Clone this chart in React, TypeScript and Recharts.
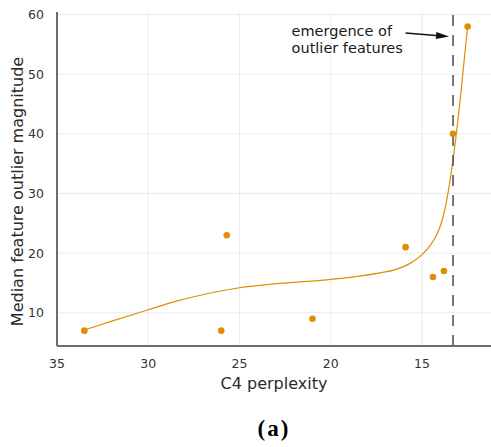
import { ComposedChart, Line, Scatter, XAxis, YAxis, CartesianGrid, ReferenceLine, Label } from "recharts";

// measured models: C4 perplexity vs. median outlier magnitude
const PERPLEXITY = [33.5, 26.0, 25.7, 21.0, 15.9, 14.4, 13.8, 13.3, 12.5];
const MAGNITUDE = [7, 7, 23, 9, 21, 16, 17, 40, 58];

// fitted trend
const FIT_PERPLEXITY = [33.5, 32.0, 30.0, 28.5, 27.2, 25.0, 23.9, 22.0, 20.0, 17.3, 16.5, 15.7, 15.0, 14.55, 14.3, 14.0, 13.65, 13.4, 13.12, 12.92, 12.74, 12.5];
const FIT_MAGNITUDE = [7.1, 8.6, 10.5, 11.9, 12.9, 14.2, 14.6, 15.1, 15.6, 16.7, 17.2, 18.2, 19.75, 21.3, 22.5, 24.5, 28.8, 33.5, 40.0, 45.4, 50.8, 58.0];

const X_TICKS = [35, 30, 25, 20, 15];
const Y_TICKS = [10, 20, 30, 40, 50, 60];
const EMERGENCE_X = 13.3;

const ORANGE = "#de8f05";
const FONT = "DejaVu Sans";

const points = PERPLEXITY.map((x, i) => ({ x, y: MAGNITUDE[i] }));
const fit = FIT_PERPLEXITY.map((x, i) => ({ x, y: FIT_MAGNITUDE[i] }));

const Dot = (p: any) => <circle cx={p.cx} cy={p.cy} r={3.3} fill={ORANGE} />;

const Arrow = (p: any) => {
  const { x1, y1, x2, y2 } = p;
  const a = Math.atan2(y2 - y1, x2 - x1);
  const len = 13, w = 3.6;
  const bx = x2 - len * Math.cos(a), by = y2 - len * Math.sin(a);
  const nx = -Math.sin(a) * w, ny = Math.cos(a) * w;
  return (
    <g>
      <line x1={x1} y1={y1} x2={bx} y2={by} stroke="#111" strokeWidth={1.3} />
      <polygon points={`${x2},${y2} ${bx + nx},${by + ny} ${bx - nx},${by - ny}`} fill="#111" />
      <text x={x1 - 114} y={y1 + 2.7} fontSize={14.5} fontFamily={FONT} fill="#1a1a1a">emergence of</text>
      <text x={x1 - 114} y={y1 + 19.7} fontSize={14.5} fontFamily={FONT} fill="#1a1a1a">outlier features</text>
    </g>
  );
};

const YTitle = () => (
  <text x={17} y={191.5} transform="rotate(-90, 17, 191.5)" textAnchor="middle" dominantBaseline="central"
    fontSize={16} fontFamily={FONT} fill="#2b2b2b">
    Median feature outlier magnitude
  </text>
);

export default function App() {
  return (
    <div style={{ position: "absolute", left: 0, top: 0, background: "#fff" }}>
      <ComposedChart width={491} height={447} margin={{ top: 12, right: 0, bottom: 0, left: 0 }}>
        <CartesianGrid stroke="#eaeaf2" strokeWidth={1} horizontalValues={Y_TICKS} verticalValues={X_TICKS} />
        <XAxis dataKey="x" type="number" reversed domain={[11.22, 35]} ticks={X_TICKS} interval={0}
          allowDataOverflow height={101} tickLine={false} tickSize={0} tickMargin={13}
          axisLine={{ stroke: "#6e6e6e", strokeWidth: 2 }}
          tick={{ fontSize: 12.5, fill: "#333", fontFamily: FONT }}>
          <Label value="C4 perplexity" position="insideTop" offset={32} fontSize={16} fill="#2b2b2b" fontFamily={FONT} />
          <Label value="(a)" position="insideTop" offset={74} fontSize={23} fontWeight="bold" letterSpacing={2}
            fill="#000" fontFamily="Liberation Serif" />
        </XAxis>
        <YAxis dataKey="y" type="number" domain={[4.43, 60.42]} ticks={Y_TICKS} interval={0}
          allowDataOverflow width={57} tickLine={false} tickSize={0} tickMargin={13}
          axisLine={{ stroke: "#6e6e6e", strokeWidth: 2 }}
          tick={{ fontSize: 12.5, fill: "#333", fontFamily: FONT }}
          label={{ content: YTitle }} />
        <Line data={fit} dataKey="y" type="monotone" stroke={ORANGE} strokeWidth={1.2} dot={false}
          isAnimationActive={false} />
        <ReferenceLine segment={[{ x: EMERGENCE_X, y: 4.43 }, { x: EMERGENCE_X, y: 61.3 }]} ifOverflow="visible"
          stroke="#555" strokeWidth={1.6} strokeDasharray="11 9" />
        <ReferenceLine segment={[{ x: 15.9, y: 56.9 }, { x: 13.52, y: 56.3 }]} ifOverflow="visible" shape={Arrow} />
        <Scatter data={points} dataKey="y" shape={Dot} isAnimationActive={false} />
      </ComposedChart>
    </div>
  );
}
